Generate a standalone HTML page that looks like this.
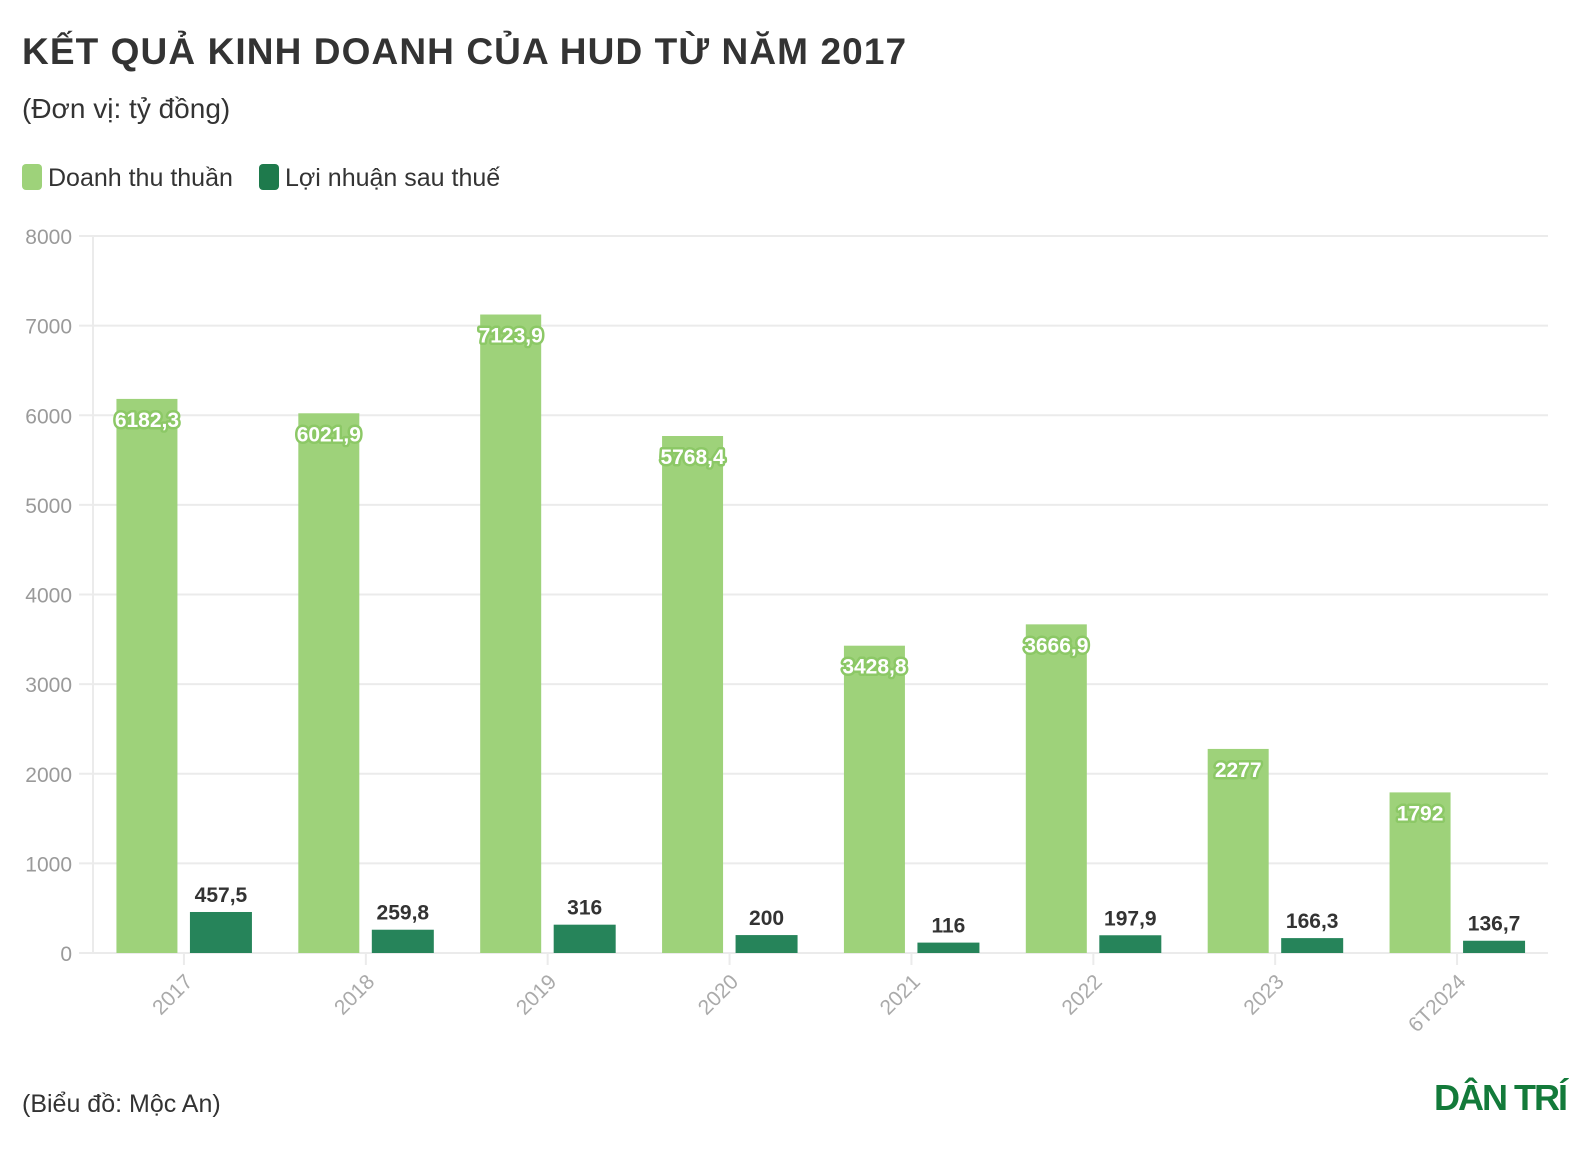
<!DOCTYPE html>
<html><head><meta charset="utf-8"><style>
body{margin:0;background:#fff;width:1588px;height:1150px;overflow:hidden;font-family:"Liberation Sans",sans-serif}
</style></head><body>
<svg width="1588" height="1150" xmlns="http://www.w3.org/2000/svg">
<text x="22" y="64" font-size="37" font-weight="bold" fill="#333" letter-spacing="1.1">KẾT QUẢ KINH DOANH CỦA HUD TỪ NĂM 2017</text>
<text x="22" y="118" font-size="28" fill="#333">(Đơn vị: tỷ đồng)</text>
<g>
<rect x="22" y="164" width="20" height="26" rx="4" fill="#9ed27a"/>
<text x="48" y="186" font-size="25" fill="#333">Doanh thu thuần</text>
<rect x="259" y="164" width="20" height="26" rx="4" fill="#1e7a4c"/>
<text x="285" y="186" font-size="25" fill="#333">Lợi nhuận sau thuế</text>
</g>
<g id="plot"></g>
<text x="22" y="1112" font-size="25" fill="#333">(Biểu đồ: Mộc An)</text>
<text x="1434" y="1110" font-size="36" font-weight="bold" fill="#137a3a" letter-spacing="-2">DÂN TRÍ</text>
</svg>
<script>
const categories=["2017","2018","2019","2020","2021","2022","2023","6T2024"];
const revenue=[6182.3,6021.9,7123.9,5768.4,3428.8,3666.9,2277,1792];
const profit=[457.5,259.8,316,200,116,197.9,166.3,136.7];
const revenueLabels=["6182,3","6021,9","7123,9","5768,4","3428,8","3666,9","2277","1792"];
const profitLabels=["457,5","259,8","316","200","116","197,9","166,3","136,7"];
const yTicks=[0,1000,2000,3000,4000,5000,6000,7000,8000];
const NS="http://www.w3.org/2000/svg";
const g=document.getElementById('plot');
const x0=93,x1=1548,yTop=236,yBot=953,ymax=8000;
const band=(x1-x0)/categories.length;
function y(v){return yBot-(v/ymax)*(yBot-yTop);}
function bx(i){return x0+band*i;}
function mk(t,a){const e=document.createElementNS(NS,t);for(const k in a)e.setAttribute(k,a[k]);g.appendChild(e);return e;}
yTicks.forEach(t=>{
 const l=mk('line',{x1:79,x2:x1,y1:y(t),y2:y(t),stroke:'#ebebeb','stroke-width':2});
 
 
 const tx=mk('text',{x:72,y:y(t)+8,'text-anchor':'end','font-size':21,fill:'#9a9a9a'});
 tx.textContent=t;
 
 
});
const ax=mk('line',{x1:x0,x2:x0,y1:yTop,y2:yBot,stroke:'#ebebeb','stroke-width':2});


categories.forEach((c,i)=>{
 const cx=bx(i)+band/2;
 const lx=cx-67.5, dx=cx+6;
 const r=mk('rect',{x:lx,y:y(revenue[i]),width:61,height:yBot-y(revenue[i]),fill:'#9ed27a'});
 
 
 const p=mk('rect',{x:dx,y:y(profit[i]),width:62,height:yBot-y(profit[i]),fill:'#26845a'});
 
 
 const tl=mk('text',{x:lx+30.5,y:y(revenue[i])+28,'text-anchor':'middle','font-size':21,'font-weight':'bold',fill:'#fff',stroke:'#8cc866','stroke-width':5,'stroke-linejoin':'round','paint-order':'stroke'});
 tl.textContent=revenueLabels[i];
 
 
 const tp=mk('text',{x:dx+31,y:y(profit[i])-10,'text-anchor':'middle','font-size':21,'font-weight':'bold',fill:'#333'});
 tp.textContent=profitLabels[i];
 
 
 const tk=mk('line',{x1:cx,x2:cx,y1:yBot,y2:yBot+12,stroke:'#ebebeb','stroke-width':2});
 
 
 const xl=mk('text',{x:cx+10,y:yBot+30,'text-anchor':'end','font-size':21,fill:'#aaa',transform:`rotate(-45 ${cx+10} ${yBot+30})`});
 xl.textContent=c;
 
 
});
</script>
</body></html>
